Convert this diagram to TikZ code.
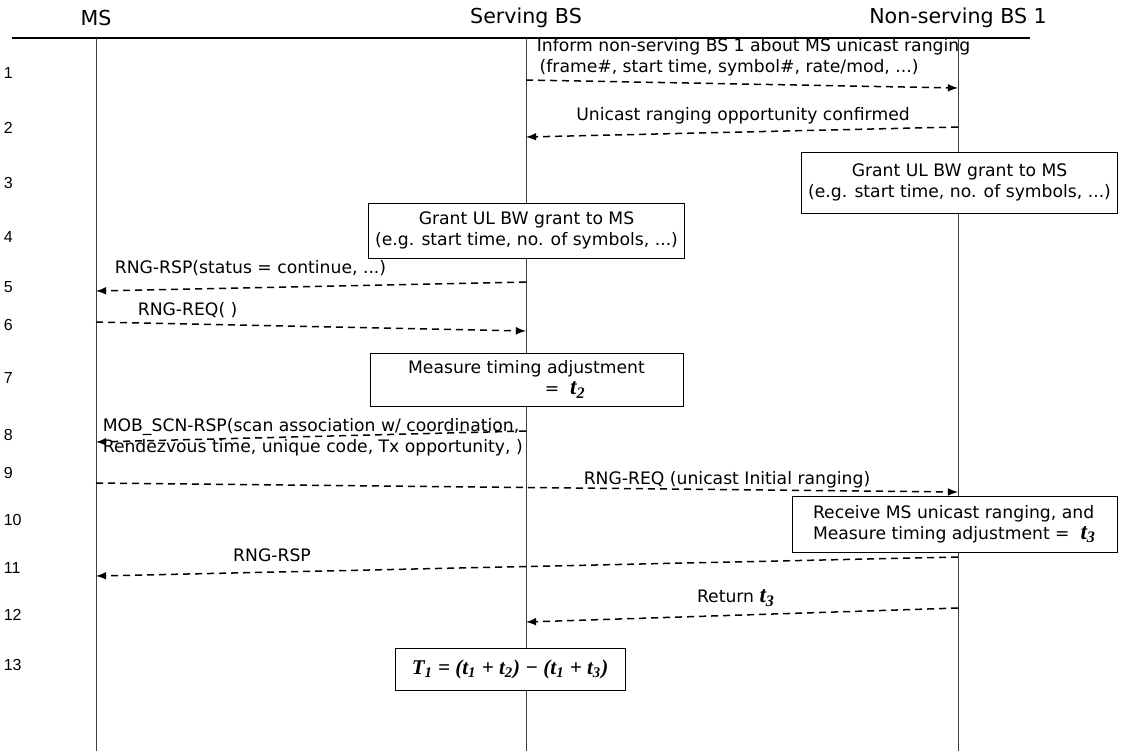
\documentclass[tikz,border=0pt]{standalone}
\usepackage{fontspec}
\setmainfont{DejaVu Sans}
\newfontfamily\numfont{Liberation Sans}
\newfontfamily\eqfont{Liberation Serif}
\usetikzlibrary{arrows,positioning}
\newcommand{\tv}[1]{{\eqfont\bfseries\itshape\fontsize{11.5}{12}\selectfont t\textsubscript{#1}}}

\begin{document}
\begin{tikzpicture}
[x=0.5pt, y=-0.5pt, thick,
 hdr/.style={font=\fontsize{10.3}{12}\selectfont},
 txt/.style={font=\fontsize{8.6}{10.4}\selectfont, inner sep=0pt},
 num/.style={font=\numfont\fontsize{8}{9}\selectfont, anchor=west, inner sep=0pt},
 box/.style={draw=black, line width=0.5pt, fill=white, align=center, font=\fontsize{8.6}{10.4}\selectfont},
 life/.style={draw=black!75, line width=0.5pt},
 msg/.style={line width=0.75pt, dash pattern=on 3.5pt off 2.5pt, -latex}]
\def\ms{96}
\def\sv{526}
\def\ns{958}
\useasboundingbox (0,0) rectangle (1122,751);
\node[hdr] (msh) at (\ms,18) {MS};
\node[hdr] (svh) at (\sv,18) {Serving BS};
\node[hdr] (nsh) at (\ns,18) {Non-serving BS 1};
\coordinate (hl) at (12,38);
\coordinate (hr) at (1030,38);
\draw[line width=0.6pt] (hl) -- (hr);
\coordinate (ms0) at (\ms,38);
\coordinate (ms1) at (\ms,751);
\coordinate (sv0) at (\sv,38);
\coordinate (sv1) at (\sv,751);
\coordinate (ns0) at (\ns,38);
\coordinate (ns1) at (\ns,751);
\draw[life] (ms0) -- (ms1);
\draw[life] (sv0) -- (sv1);
\draw[life] (ns0) -- (ns1);
\foreach \n/\y in {1/73,2/128,3/183,4/237,5/287,6/325,7/378,8/435,9/473,10/520,11/568,12/615,13/665}
  \node[num] (r\n) at (3,\y) {\n};
\node[txt, anchor=west, align=left] (t1) at (536,57) {Inform non-serving BS 1 about MS unicast ranging\\ \,(frame\#, start time, symbol\#, rate/mod, ...)};
\coordinate (a1) at (\sv,80);
\coordinate (b1) at (\ns,88);
\draw[msg] (a1) -- (b1);
\node[txt] (t2) at (743,116) {Unicast ranging opportunity confirmed};
\coordinate (a2) at (\ns,127);
\coordinate (b2) at (\sv,137);
\draw[msg] (a2) -- (b2);
\node[box, minimum width=157.5pt, minimum height=30.5pt] (g3) at (959.5,182.5) {Grant UL BW grant to MS\\(e.g. start time, no. of symbols, ...)};
\node[box, minimum width=156.5pt, minimum height=27.5pt] (g4) at (526.5,230.5) {Grant UL BW grant to MS\\(e.g. start time, no. of symbols, ...)};
\node[txt, anchor=west] (t5) at (114,268) {RNG-RSP(status = continue, ...)};
\coordinate (a5) at (\sv,282);
\coordinate (b5) at (\ms,291);
\draw[msg] (a5) -- (b5);
\node[txt, anchor=west] (t6) at (137,310) {RNG-REQ( )};
\coordinate (a6) at (\ms,322);
\coordinate (b6) at (\sv,331);
\draw[msg] (a6) -- (b6);
\node[box, minimum width=156.5pt, minimum height=26.5pt] (m7) at (526.5,379.5) {Measure timing adjustment\\ \hspace{4.5em}= \ \tv{2}};
\node[txt, anchor=west, align=left] (t8) at (102,437) {MOB\_SCN-RSP(scan association w/ coordination,\\Rendezvous time, unique code, Tx opportunity, )};
\coordinate (a8) at (\sv,431);
\coordinate (b8) at (\ms,442);
\draw[msg] (a8) -- (b8);
\node[txt] (t9) at (727,480) {RNG-REQ (unicast Initial ranging)};
\coordinate (a9) at (\ms,483);
\coordinate (b9) at (\ns,492);
\draw[msg] (a9) -- (b9);
\node[box, minimum width=162.5pt, minimum height=28pt, align=left] (m10) at (954.5,524) {Receive MS unicast ranging, and\\Measure timing adjustment = \ \tv{3}};
\node[txt] (t11) at (272,555) {RNG-RSP};
\coordinate (a11) at (\ns,557);
\coordinate (b11) at (\ms,576);
\draw[msg] (a11) -- (b11);
\node[txt] (t12) at (736,598) {Return \tv{3}};
\coordinate (a12) at (\ns,608);
\coordinate (b12) at (\sv,622);
\draw[msg] (a12) -- (b12);
\node[box, minimum width=115pt, minimum height=21pt, font=\eqfont\bfseries\itshape\fontsize{10.5}{12}\selectfont] (e13) at (510,669) {T\textsubscript{1} = (t\textsubscript{1} + t\textsubscript{2}) − (t\textsubscript{1} + t\textsubscript{3})};
\end{tikzpicture}
\end{document}
